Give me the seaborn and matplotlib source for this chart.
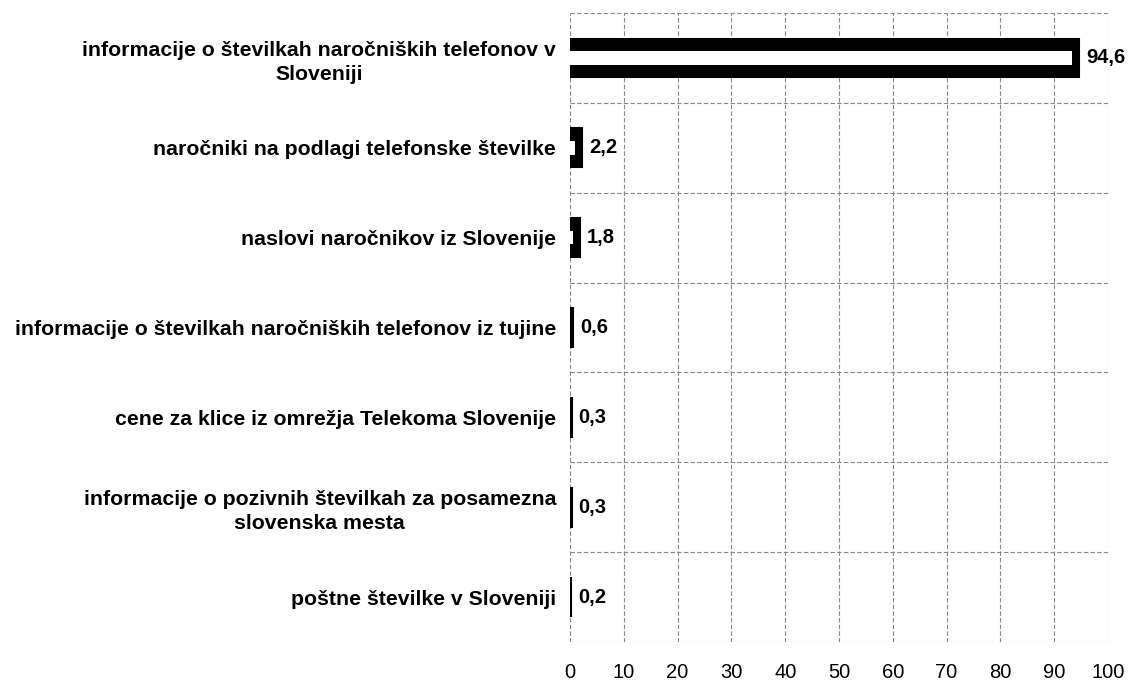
import matplotlib
matplotlib.use("Agg")
import matplotlib.pyplot as plt
import seaborn as sns
import pandas as pd
import numpy as np

categories = [
    "informacije o številkah naročniških telefonov v\nSloveniji",
    "naročniki na podlagi telefonske številke",
    "naslovi naročnikov iz Slovenije",
    "informacije o številkah naročniških telefonov iz tujine",
    "cene za klice iz omrežja Telekoma Slovenije",
    "informacije o pozivnih številkah za posamezna\nslovenska mesta",
    "poštne številke v Sloveniji",
]
values = [94.6, 2.2, 1.8, 0.6, 0.3, 0.3, 0.2]
value_labels = ["94,6", "2,2", "1,8", "0,6", "0,3", "0,3", "0,2"]
x_ticks = [0, 10, 20, 30, 40, 50, 60, 70, 80, 90, 100]

sns.set_style("white")
plt.rcParams["font.family"] = ["Liberation Sans", "DejaVu Sans"]
plt.rcParams["text.color"] = "black"
plt.rcParams["xtick.color"] = "black"
plt.rcParams["ytick.color"] = "black"

df = pd.DataFrame({"kategorija": categories, "delez": values})

fig = plt.figure(figsize=(11.35, 6.82), dpi=100)
ax = fig.add_axes([570 / 1135, 1 - 642 / 682, (1108 - 570) / 1135, (642 - 13) / 682])

sns.barplot(data=df, x="delez", y="kategorija", orient="h", color="black",
            width=0.43, edgecolor="black", linewidth=1.5, saturation=1, ax=ax, zorder=3)

# white inner stripe (cylinder-like highlight)
inner = [max(v - 1.2, 0) for v in values]
ax.barh(np.arange(len(values)), inner, height=0.15, left=0, color="white",
        edgecolor="none", zorder=4)

ax.bar_label(ax.containers[0], labels=value_labels, padding=5,
             fontsize=14.5, fontweight="bold", color="black")

ax.set_xlim(0, 100)
ax.set_ylim(6.5, -0.5)
ax.set_xticks(x_ticks)
ax.set_xticklabels([str(t) for t in x_ticks], fontsize=14.5, color="black")
ax.set_yticks(np.arange(len(categories)))
ax.set_yticks(np.arange(-0.5, len(categories), 1.0), minor=True)
ax.set_xlabel("")
ax.set_ylabel("")

for lab in ax.get_yticklabels():
    lab.set_fontsize(15.3)
    lab.set_fontweight("bold")
    lab.set_color("black")
    lab.set_multialignment("center")
    lab.set_linespacing(1.35)

ax.tick_params(axis="y", which="both", length=0, pad=10)
ax.tick_params(axis="x", which="both", length=0, pad=15)

ax.grid(True, axis="x", which="major", color="#888888", linestyle=(0, (4, 2)), linewidth=0.8, zorder=0)
ax.grid(True, axis="y", which="minor", color="#888888", linestyle=(0, (4, 2)), linewidth=0.8, zorder=0)
ax.grid(False, axis="y", which="major")
for s in ax.spines.values():
    s.set_visible(False)
ax.set_axisbelow(True)

fig.savefig("out.png", dpi=100)
